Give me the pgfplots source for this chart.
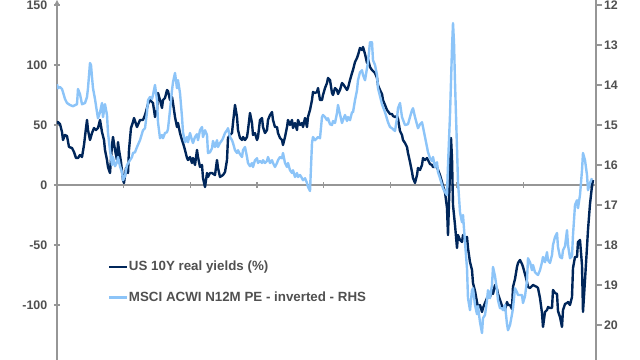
\documentclass[border=0pt]{standalone}
\usepackage{fontspec}
\setmainfont{Liberation Sans}
\usepackage{pgfplots}
\pgfplotsset{compat=1.18}
\usepackage{pgfplotstable}
\definecolor{darkblue}{RGB}{0,38,90}
\definecolor{lightblue}{RGB}{140,196,248}
\definecolor{txt}{RGB}{80,80,80}
\definecolor{axgray}{RGB}{150,150,150}

% US 10Y real yields (left axis)
\pgfplotstableread{
x y
57 50.8
58 52.5
60 50.8
62 44.2
63 37.5
65 41.7
67 40.8
69 31.7
72 30.8
74 27.5
76 22.5
78 22.5
80 25.0
82 23.3
84 33.3
86 47.5
87 54.2
88 45.8
90 37.5
92 43.3
94 47.5
96 45.8
98 47.5
100 54.2
102 44.2
104 37.5
105 29.2
107 20.8
108 15.0
110 10.0
112 33.3
113 40.0
115 29.2
117 20.8
118 35.8
119 29.2
121 19.2
123 4.2
124 1.7
126 14.2
128 10.0
129 29.2
131 47.5
133 52.5
134 55.8
137 48.3
140 54.2
143 54.2
145 58.3
147 64.2
148 67.5
150 70.8
153 68.3
155 56.7
157 62.5
158 76.7
160 70.8
162 64.2
163 70.8
165 72.5
167 79.2
168 78.3
170 70.8
172 73.3
173 68.3
175 56.7
177 48.3
178 51.7
180 43.3
182 37.5
183 35.0
185 29.2
187 22.5
188 20.8
190 23.3
192 18.3
193 22.5
195 16.7
197 29.2
198 23.3
200 15.0
202 16.7
203 5.8
205 -1.7
207 10.0
208 6.7
210 10.0
212 10.0
215 8.3
217 20.8
218 14.2
220 6.7
223 8.3
225 10.8
227 20.8
228 39.2
230 41.7
232 43.3
233 51.7
235 66.7
237 56.7
238 45.8
240 39.2
242 37.5
243 40.0
245 37.5
247 40.0
248 45.8
250 60.0
252 51.7
253 41.7
255 43.3
257 37.5
258 40.0
260 54.2
262 55.8
263 48.3
265 43.3
267 45.8
268 54.2
270 58.3
272 60.8
273 54.2
275 48.3
277 48.3
278 43.3
280 39.2
282 37.5
283 33.3
285 40.0
287 48.3
288 54.2
290 50.0
292 54.2
293 47.5
295 51.7
297 45.8
298 54.2
300 50.0
302 51.7
303 48.3
305 55.8
307 48.3
308 56.7
310 62.5
312 70.8
313 77.5
315 76.7
317 77.5
318 80.8
320 70.8
322 70.8
323 75.0
325 80.8
327 85.0
328 89.2
330 87.5
332 76.7
333 75.0
335 80.8
337 79.2
338 75.8
340 79.2
342 85.0
343 84.2
345 81.7
347 79.2
348 80.8
350 87.5
352 93.3
353 95.8
355 102.5
357 105.8
358 108.3
360 114.2
362 112.5
363 115.0
365 109.2
367 101.7
368 105.0
370 98.3
372 95.8
375 93.3
377 89.2
378 83.3
380 79.2
382 75.8
383 70.8
385 66.7
387 62.5
390 59.2
392 59.2
393 57.5
395 56.7
397 57.5
398 55.0
400 45.0
402 41.7
403 37.5
405 35.0
407 31.7
408 26.7
410 19.2
412 10.8
413 5.8
415 1.7
417 8.3
418 14.2
420 12.5
422 16.7
423 22.5
425 20.8
427 22.5
428 20.8
430 17.5
432 16.7
433 15.0
437 15.0
440 8.3
442 2.5
443 -0.8
445 -5.8
447 -19.2
448 -41.7
450 12.5
451 39.2
452 22.5
453 -16.7
455 -33.3
457 -52.5
458 -41.7
460 -45.8
462 -47.5
463 -41.7
465 -44.2
467 -43.3
468 -52.5
470 -64.2
472 -70.8
473 -81.7
475 -88.3
477 -97.5
478 -102.5
480 -100.0
482 -105.8
483 -102.5
485 -98.3
487 -94.2
488 -93.3
490 -93.3
492 -87.5
493 -90.8
495 -83.3
497 -86.7
498 -90.8
500 -95.8
502 -100.8
503 -101.7
505 -104.2
507 -97.5
508 -100.0
510 -100.0
512 -103.3
513 -85.0
515 -78.3
517 -68.3
518 -65.0
520 -62.5
522 -65.8
523 -68.3
525 -74.2
527 -80.8
528 -85.0
530 -85.8
532 -84.2
533 -83.3
537 -85.0
538 -85.8
540 -94.2
542 -106.7
543 -118.3
545 -105.8
547 -104.2
548 -101.7
550 -102.5
552 -102.5
553 -87.5
555 -90.0
557 -90.8
558 -105.0
560 -110.0
562 -118.3
563 -104.2
565 -99.2
567 -98.3
568 -97.5
570 -100.0
572 -93.3
573 -69.2
575 -60.0
577 -60.0
578 -47.5
580 -45.8
582 -66.7
583 -105.8
585 -79.2
587 -51.7
588 -37.5
590 -15.8
592 -0.8
593 4.2
}\darkdata

% MSCI ACWI N12M PE (right axis, inverted)
\pgfplotstableread{
x y
57 13.98
58 14.08
60 14.05
62 14.10
63 14.18
65 14.35
67 14.45
70 14.50
73 14.53
77 14.48
78 14.10
80 14.23
82 14.48
85 14.45
87 14.30
88 14.08
90 13.45
91 13.50
92 13.80
93 14.08
95 14.35
97 14.68
98 14.83
100 14.68
102 14.45
103 14.80
105 14.48
107 14.75
108 15.20
110 15.63
112 16.00
113 15.80
115 16.03
117 15.93
118 15.80
120 16.03
122 16.18
123 16.38
125 16.28
127 16.00
130 15.88
132 15.80
133 15.70
135 15.68
137 15.55
140 15.38
143 15.13
145 15.08
147 14.68
148 14.38
150 14.30
152 14.35
153 14.25
155 14.00
157 14.38
158 14.93
160 15.33
162 15.25
163 15.33
165 15.20
167 15.18
168 15.10
170 14.63
172 14.13
173 13.93
175 13.70
177 14.08
178 13.88
180 14.20
182 14.80
183 15.18
185 15.43
187 15.30
188 15.43
190 15.20
192 15.38
193 15.45
195 15.30
197 15.23
198 15.38
200 15.13
202 15.05
203 15.30
205 15.13
207 15.25
208 15.70
210 15.68
212 15.58
213 15.40
215 15.55
217 15.38
218 15.55
220 15.45
222 15.38
223 15.33
225 15.20
227 15.13
228 15.08
230 15.30
232 15.38
233 15.45
235 15.63
237 15.70
238 15.63
240 15.73
242 15.80
243 15.63
245 15.55
247 15.80
248 15.95
250 16.03
252 15.95
253 16.05
255 15.88
257 15.83
258 15.95
260 15.90
262 15.95
263 15.88
265 15.95
267 15.90
268 15.80
270 15.95
272 15.88
273 15.95
275 16.05
277 15.95
278 15.88
280 15.80
282 15.83
283 15.70
285 15.95
287 16.05
288 15.95
290 16.13
292 16.20
293 16.13
295 16.30
297 16.20
298 16.30
300 16.25
302 16.33
303 16.38
305 16.33
307 16.45
308 16.55
310 16.65
312 15.45
313 15.30
315 15.38
317 15.33
318 15.30
320 15.33
322 14.80
323 14.75
325 14.80
327 14.88
328 14.83
330 14.98
332 15.00
333 14.90
335 14.95
337 14.70
338 14.50
340 14.73
342 14.95
343 14.88
345 14.75
347 14.90
348 14.80
350 14.88
352 14.68
353 14.68
355 14.38
357 14.13
358 13.88
360 13.68
362 13.63
363 13.75
365 13.88
367 13.58
368 13.43
370 12.93
372 12.93
373 13.38
375 13.50
377 13.75
378 14.08
380 14.28
382 14.48
385 14.68
388 14.93
390 15.05
392 15.08
395 15.15
397 14.83
398 14.58
400 14.45
402 14.80
405 15.00
408 14.98
410 14.80
412 14.63
413 14.58
415 14.80
418 15.08
420 14.98
422 14.93
423 15.05
425 15.30
427 15.55
428 15.68
430 15.83
432 15.90
433 15.80
435 16.05
437 15.93
438 16.18
440 16.33
442 16.50
443 16.58
445 16.68
447 16.75
448 16.00
450 14.75
452 13.08
453 12.45
454 12.93
455 13.93
457 15.58
458 16.43
460 17.18
462 17.43
463 17.25
465 17.93
467 18.58
468 19.33
470 19.63
472 19.13
473 19.08
475 19.50
477 19.73
478 19.53
480 19.93
482 20.20
483 19.83
485 19.75
487 19.38
488 19.13
490 19.33
492 19.00
493 18.55
495 18.78
497 19.13
498 19.38
500 19.58
502 19.58
503 19.63
505 19.50
507 19.98
508 20.13
510 20.00
512 19.73
513 19.58
515 19.08
517 19.18
518 19.25
520 19.25
522 19.25
523 19.45
525 19.28
527 18.88
528 18.33
530 18.43
532 18.63
533 18.50
535 18.68
537 18.73
538 18.75
540 18.63
542 18.43
543 18.30
545 18.43
547 18.18
548 18.38
550 18.45
552 18.25
553 18.00
555 17.80
557 17.70
558 18.05
560 18.30
562 18.33
563 18.13
565 18.03
567 17.63
568 18.00
570 18.33
572 18.28
573 17.75
575 17.00
577 16.88
578 17.08
580 16.75
582 16.13
583 15.70
585 15.88
587 16.25
588 16.63
590 16.45
592 16.33
}\lightdata

\pgfplotsset{
  common/.style={
    width=404.25pt, height=270pt, scale only axis,
    xmin=57, xmax=596,
    axis line style={-, draw=axgray, line width=0.8pt},
    tick style={draw=axgray, line width=0.8pt},
    tick align=outside,
    major tick length=4.5pt,
    /pgf/number format/assume math mode=true,
    ticklabel style={font=\bfseries\fontsize{9.3}{10}\selectfont, text=txt},
  }
}

\begin{document}
\begin{tikzpicture}
\begin{axis}[common, name=ax1,
  ymin=-145.83, ymax=154.17,
  axis x line=middle, axis y line=left,
  xtick={57,123.67,190.33,257,323.67,390.33,457,523.67,590.33},
  xticklabels={},
  ytick={-100,-50,0,50,100,150},
  yticklabel style={xshift=-1.5pt},
]
\addplot[darkblue, line width=1.8pt, line join=round] table {\darkdata};
\end{axis}
\begin{axis}[common,
  ymin=11.875, ymax=20.875, y dir=reverse,
  axis x line=none, axis y line*=right,
  ytick={12,13,14,15,16,17,18,19,20},
  yticklabel style={xshift=-2pt},
  legend style={at={(0.094,0.29)}, anchor=north west, draw=none, fill=none,
    font=\bfseries\fontsize{10}{12}\selectfont, text=txt,
    row sep=10pt, inner xsep=0pt,
    nodes={inner xsep=0.5pt}},
  legend cell align=left,
  legend image code/.code={\draw[#1] (0pt,0pt) -- (13.5pt,0pt);},
]
\addlegendimage{darkblue, line width=1.8pt}
\addlegendentry{US 10Y real yields (\%)}
\addplot[lightblue, line width=1.8pt, line join=round] table {\lightdata};
\addlegendentry{MSCI ACWI N12M PE - inverted - RHS}
\end{axis}
\pgfresetboundingbox
\path ([xshift=-42.75pt]ax1.south west) rectangle ([xshift=33pt]ax1.north east);
\end{tikzpicture}
\end{document}
